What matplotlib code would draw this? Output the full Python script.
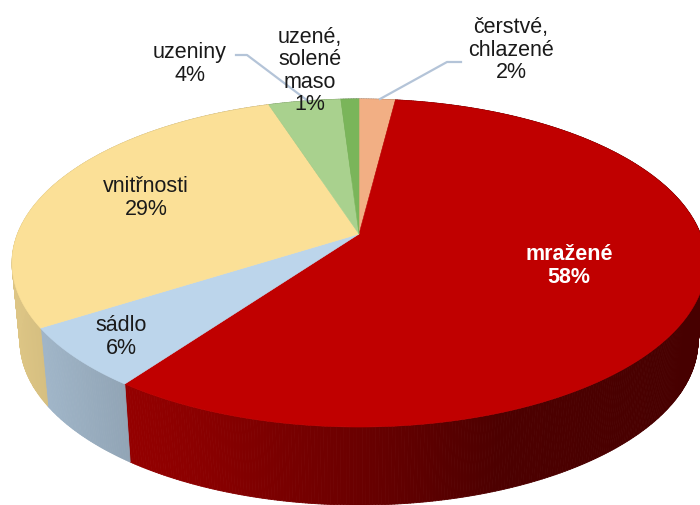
import numpy as np
import matplotlib
matplotlib.use("Agg")
import matplotlib.pyplot as plt
from matplotlib.collections import PolyCollection
from matplotlib.patches import Polygon

# clockwise from the top, same order as the chart
categories = ["čerstvé,\nchlazené", "mražené", "sádlo", "vnitřnosti", "uzeniny", "uzené,\nsolené\nmaso"]
values = [2, 58, 6, 29, 4, 1]
colors = ["#F2AF84", "#C00000", "#BCD5EB", "#FBE097", "#A9D18E", "#7AB55A"]

label_x = [511, 569, 121, 146, 190, 310]
label_y = [50, 266, 337, 198, 64, 71]
label_colors = ["#1a1a1a", "white", "#1a1a1a", "#1a1a1a", "#1a1a1a", "#1a1a1a"]
label_weights = ["normal", "bold", "normal", "normal", "normal", "normal"]

# leader lines
leader_a = ([380, 447, 461], [100, 63, 63])
leader_b = ([236, 247, 308], [56, 56, 102])

# wall shading by screen x
shade_x = [12, 116, 200, 360, 500, 700]
shade_f = [0.88, 0.78, 0.72, 0.55, 0.40, 0.37]

cx, cy = 359, 235
a, b, k = 341.5, 158.9, 0.1768
depth = 78
shrink = 0.977


def project(theta):
    u = np.sin(theta)
    v = np.cos(theta)
    d = 1 + k * v
    return cx + a * u / d, cy - b * v / d


fig = plt.figure(figsize=(7, 5.06), dpi=100)
ax = fig.add_axes([0, 0, 1, 1])
ax.set_xlim(0, 700)
ax.set_ylim(506, 0)
ax.axis("off")

edges = np.cumsum([0] + values) / sum(values) * 2 * np.pi

# side wall first, the top covers its back part
for i in range(len(values)):
    t = np.linspace(edges[i], edges[i + 1], max(values[i] * 8, 6))
    x, y = project(t)
    xb = cx + (x - cx) * shrink
    yb = y + depth
    quads = []
    cols = []
    base = np.array(matplotlib.colors.to_rgb(colors[i]))
    for j in range(len(t) - 1):
        quads.append([(x[j], y[j]), (x[j + 1], y[j + 1]), (xb[j + 1], yb[j + 1]), (xb[j], yb[j])])
        f = np.interp((x[j] + x[j + 1]) / 2, shade_x, shade_f)
        cols.append(base * f)
    ax.add_collection(PolyCollection(quads, facecolors=cols, edgecolors=cols, linewidths=0.6, zorder=1))

# top of the pie
for i in range(len(values)):
    t = np.linspace(edges[i], edges[i + 1], max(values[i] * 8, 6))
    x, y = project(t)
    pts = np.column_stack([np.r_[cx, x], np.r_[cy, y]])
    ax.add_patch(Polygon(pts, closed=True, facecolor=colors[i], edgecolor=colors[i], linewidth=0.4, zorder=2))

ax.plot(*leader_a, color="#B4C4D8", lw=1.6, zorder=3)
ax.plot(*leader_b, color="#B4C4D8", lw=1.6, zorder=3)

for i in range(len(values)):
    ax.text(label_x[i], label_y[i], categories[i] + "\n" + str(values[i]) + "%",
            ha="center", va="center", fontsize=15.5, family="Liberation Sans",
            color=label_colors[i], fontweight=label_weights[i], linespacing=1.1, zorder=4)

fig.savefig("out.png", dpi=100)
